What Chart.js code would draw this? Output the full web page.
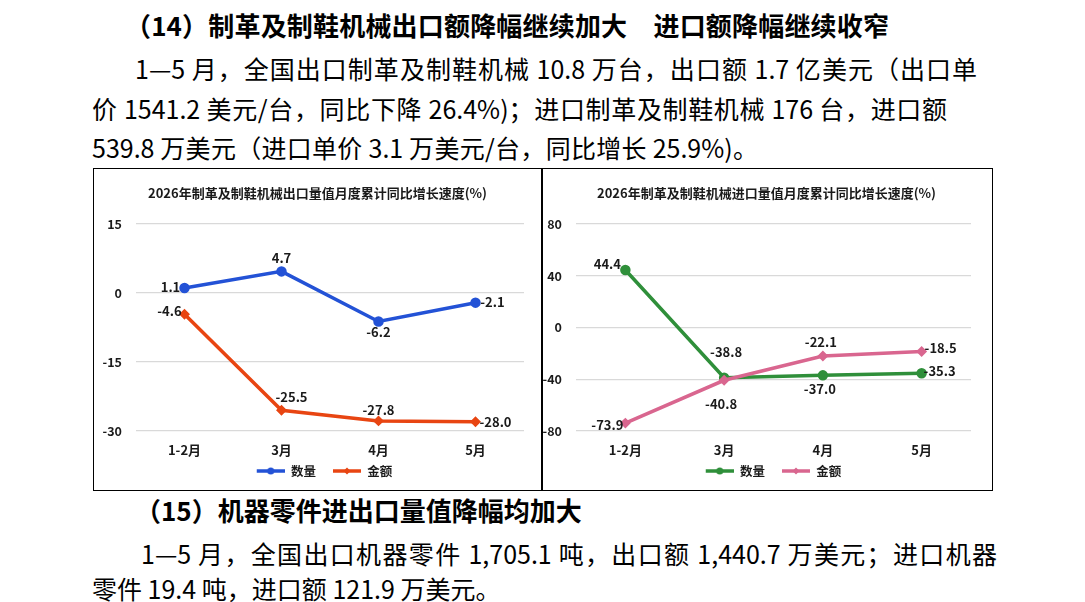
<!DOCTYPE html>
<html>
<head>
<meta charset="utf-8">
<script src="https://cdn.jsdelivr.net/npm/chart.js@4.4.1/dist/chart.umd.min.js"></script>
<style>
  html, body { margin: 0; padding: 0; background: #fff; }
  body { width: 1085px; height: 602px; position: relative; overflow: hidden;
         font-family: "Noto Sans CJK SC", sans-serif; color: #000; }
  .line { position: absolute; white-space: nowrap; font-size: 25px; line-height: 30px; }
  .h { font-weight: bold; font-size: 26px; }
  .j { text-align: justify; text-align-last: justify; }
  #box { position: absolute; left: 92.5px; top: 168px; width: 900px; height: 323px;
         border: 1.5px solid #000; box-sizing: border-box; }
  #divider { position: absolute; left: 541px; top: 168px; width: 1.5px; height: 323px; background: #000; }
  .wrap { position: absolute; top: 170px; width: 447px; height: 320px; }
</style>
</head>
<body>
<div class="line h j" style="left:125px; top:10px; width:764px;">（14）制革及制鞋机械出口额降幅继续加大　进口额降幅继续收窄</div>
<div class="line j" style="left:135px; top:53px; width:842px;">1—5 月，全国出口制革及制鞋机械 10.8 万台，出口额 1.7 亿美元（出口单</div>
<div class="line j" style="left:92px; top:93px; width:855px;">价 1541.2 美元/台，同比下降 26.4%)；进口制革及制鞋机械 176 台，进口额</div>
<div class="line j" style="left:92px; top:132px; width:666px;">539.8 万美元（进口单价 3.1 万美元/台，同比增长 25.9%)。</div>

<div id="box"></div>
<div id="divider"></div>
<div class="wrap" style="left:94px;"><canvas id="exportChart"></canvas></div>
<div class="wrap" style="left:543px;"><canvas id="importChart"></canvas></div>

<div class="line h" style="left:135px; top:495px;">（15）机器零件进出口量值降幅均加大</div>
<div class="line j" style="left:141px; top:538px; width:856px;">1—5 月，全国出口机器零件 1,705.1 吨，出口额 1,440.7 万美元；进口机器</div>
<div class="line j" style="left:92px; top:573px; width:406px;">零件 19.4 吨，进口额 121.9 万美元。</div>

<script>
const categories = ['1-2月', '3月', '4月', '5月'];
const seriesNames = ['数量', '金额'];

const exportQty = [1.1, 4.7, -6.2, -2.1];
const exportValue = [-4.6, -25.5, -27.8, -28.0];
const exportTicks = [15, 0, -15, -30];

const importQty = [44.4, -38.8, -37.0, -35.3];
const importValue = [-73.9, -40.8, -22.1, -18.5];
const importTicks = [80, 40, 0, -40, -80];

const numFont = '"Liberation Sans Narrow", "Noto Sans CJK SC", sans-serif';
const cjkFont = '"Noto Sans CJK SC", sans-serif';

// line + marker icon for the legend; blank strip on the left gives the gap between items
function legendIcon(color, style) {
    let c = document.createElement('canvas');
    c.width = 42;
    c.height = 10;
    let g = c.getContext('2d');
    g.strokeStyle = color;
    g.lineWidth = 3.5;
    g.beginPath();
    g.moveTo(14, 5);
    g.lineTo(42, 5);
    g.stroke();
    g.fillStyle = color;
    g.beginPath();
    if (style === 'circle') {
        g.arc(28, 5, 3.5, 0, Math.PI * 2);
    } else {
        g.moveTo(28, 1.5); g.lineTo(31.5, 5); g.lineTo(28, 8.5); g.lineTo(24.5, 5); g.closePath();
    }
    g.fill();
    return c;
}

// value labels next to each point
const pointLabels = {
    id: 'pointLabels',
    afterDatasetsDraw(chart) {
        let ctx = chart.ctx;
        ctx.save();
        ctx.font = 'bold 13px ' + numFont;
        ctx.fillStyle = '#1a1a1a';
        ctx.textAlign = 'center';
        ctx.textBaseline = 'middle';
        chart.data.datasets.forEach((ds, i) => {
            let meta = chart.getDatasetMeta(i);
            meta.data.forEach((pt, j) => {
                let off = ds.labelOffsets[j];
                ctx.fillText(ds.data[j].toFixed(1), pt.x + off[0], pt.y + off[1]);
            });
        });
        ctx.restore();
    }
};

function makeChart(id, title, qty, val, ticks, colors, yWidth, rightPad, qtyOffsets, valOffsets) {
    let ctx = document.getElementById(id).getContext('2d');
    return new Chart(ctx, {
        type: 'line',
        data: {
            labels: categories,
            datasets: [{
                label: seriesNames[0],
                data: qty,
                borderColor: colors[0],
                backgroundColor: colors[0],
                borderWidth: 3.5,
                pointStyle: 'circle',
                pointRadius: 3.5,
                tension: 0,
                order: 2,
                labelOffsets: qtyOffsets,
                icon: legendIcon(colors[0], 'circle')
            }, {
                label: seriesNames[1],
                data: val,
                borderColor: colors[1],
                backgroundColor: colors[1],
                borderWidth: 3.5,
                pointStyle: 'rectRot',
                pointRadius: 3,
                tension: 0,
                order: 1,
                labelOffsets: valOffsets,
                icon: legendIcon(colors[1], 'diamond')
            }]
        },
        options: {
            responsive: false,
            animation: false,
            events: [],
            layout: { padding: { left: 0, right: 0, top: 0, bottom: 2.75 } },
            plugins: {
                title: {
                    display: true,
                    text: title,
                    color: '#1a1a1a',
                    font: { size: 13, weight: 'bold', family: cjkFont },
                    padding: { top: 15.3, bottom: 23.1 }
                },
                legend: {
                    position: 'bottom',
                    labels: {
                        usePointStyle: true,
                        pointStyleWidth: 42,
                        boxHeight: 12,
                        padding: 3,
                        color: '#1a1a1a',
                        font: { size: 12.5, weight: 'bold', family: cjkFont },
                        generateLabels: chart => chart.data.datasets.map((ds, i) => ({
                            text: ds.label,
                            pointStyle: ds.icon,
                            fillStyle: ds.borderColor,
                            strokeStyle: ds.borderColor,
                            lineWidth: 0,
                            fontColor: '#1a1a1a',
                            datasetIndex: i
                        }))
                    }
                },
                tooltip: { enabled: false }
            },
            scales: {
                x: {
                    offset: true,
                    afterFit: s => { s.height = 30.75; },
                    grid: { display: false, drawTicks: false },
                    border: { display: false },
                    ticks: { color: '#1a1a1a', padding: 11.2, font: { size: 13, weight: 'bold', family: numFont } }
                },
                y: {
                    min: ticks[ticks.length - 1],
                    max: ticks[0],
                    afterBuildTicks: s => { s.ticks = ticks.map(v => ({ value: v })); },
                    afterFit: s => { s.width = yWidth; },
                    grid: { color: '#d9d9d9', lineWidth: 1.3, drawTicks: false },
                    border: { display: false },
                    ticks: { color: '#1a1a1a', padding: 14, font: { size: 12.5, weight: 'bold', family: numFont } }
                },
                // empty right-hand axis: keeps the plot narrower while title and legend stay centred
                yPad: {
                    position: 'right',
                    afterFit: s => { s.width = rightPad; },
                    grid: { display: false, drawTicks: false },
                    border: { display: false },
                    ticks: { display: false }
                }
            }
        },
        plugins: [pointLabels]
    });
}

document.getElementById('exportChart').width = 447;
document.getElementById('exportChart').height = 320;
document.getElementById('importChart').width = 447;
document.getElementById('importChart').height = 320;

makeChart('exportChart', '2026年制革及制鞋机械出口量值月度累计同比增长速度(%)',
    exportQty, exportValue, exportTicks, ['#2352d6', '#e84512'], 42, 17,
    [[-14, -1], [0, -13], [0, 11], [17, -1]],
    [[-15, -3], [10, -13], [0, -11], [20, 0]]);

makeChart('importChart', '2026年制革及制鞋机械进口量值月度累计同比增长速度(%)',
    importQty, importValue, importTicks, ['#2f8f3a', '#d9668f'], 33, 19,
    [[-18, -6], [2, -26], [-3, 14], [18, -2]],
    [[-18, 2], [-3, 24], [-2, -14], [19, -3]]);
</script>
</body>
</html>
